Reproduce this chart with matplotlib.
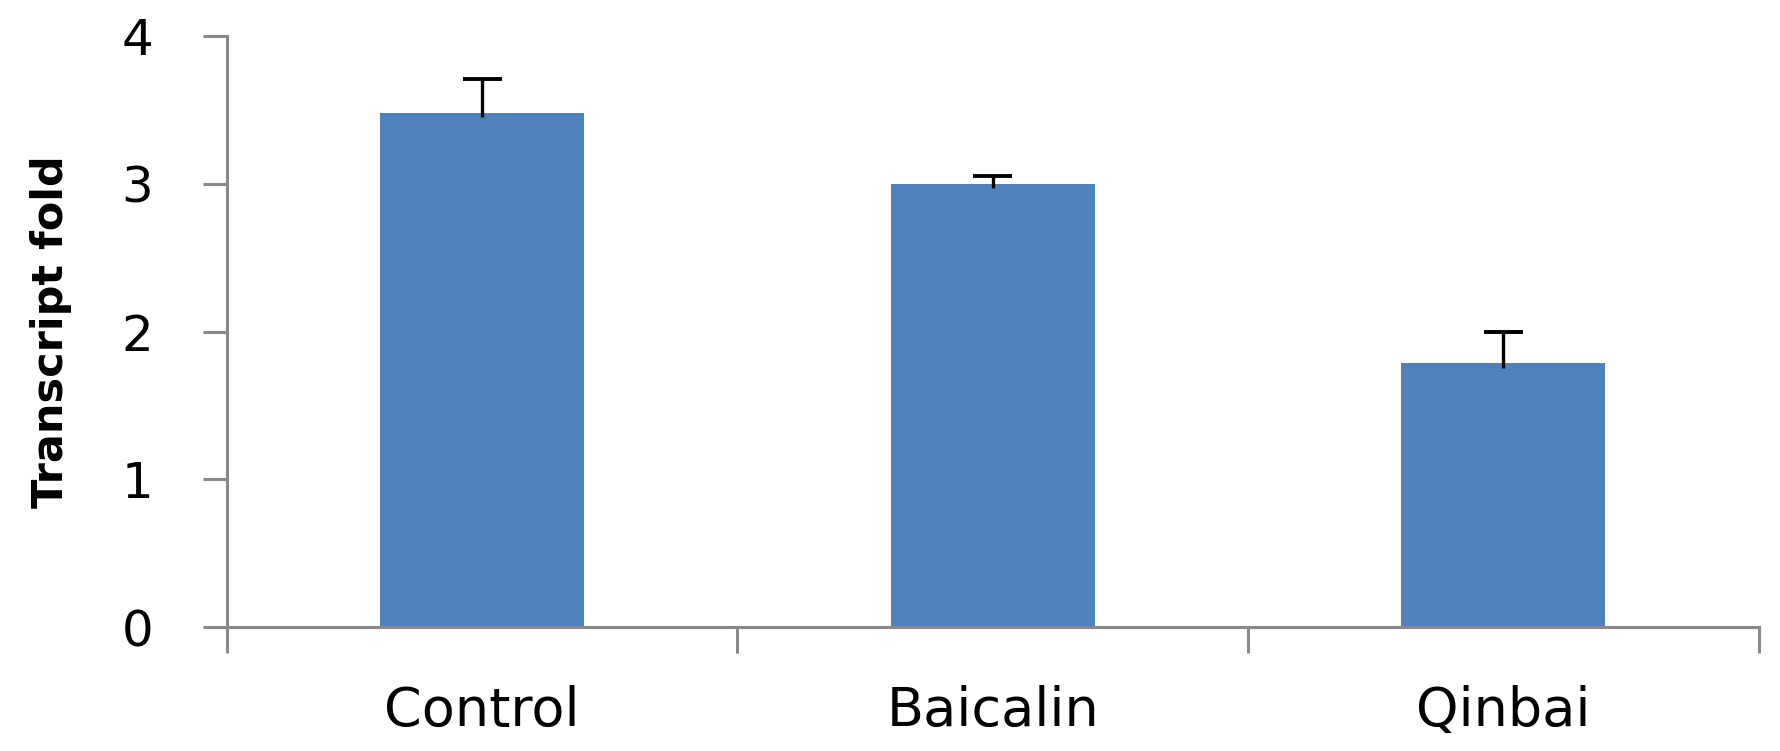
import numpy as np
import matplotlib
matplotlib.use("Agg")
import matplotlib.pyplot as plt

# Transcript fold per treatment
groups = ["Control", "Baicalin", "Qinbai"]
fold = [3.48, 3.00, 1.785]
fold_err = [0.23, 0.05, 0.21]
y_ticks = [0, 1, 2, 3, 4]

axis_grey = "#898989"
bar_blue = "#4F81BD"

fig = plt.figure(figsize=(17.81, 7.51), dpi=100)
ax = fig.add_axes([0.1274, 0.165, 0.860, 0.787])

x = np.arange(len(groups))
fold = np.array(fold)
fold_err = np.array(fold_err)
ax.bar(x, fold, width=0.4, color=bar_blue, zorder=2)

# plus-only error bars: stem starts just inside the bar, cap on top only
cap_half = 0.038
ax.vlines(x, fold - 0.03, fold + fold_err, color="black", linewidth=2.4, zorder=3)
ax.hlines(fold + fold_err, x - cap_half, x + cap_half, color="black",
          linewidth=2.8, zorder=3)

ax.set_xlim(-0.5, len(groups) - 0.5)
ax.set_ylim(0, 4)

# category boundaries get the tick marks, labels sit between them
ax.set_xticks(np.arange(len(groups) + 1) - 0.5)
ax.set_xticklabels([])
ax.set_xticks(x, minor=True)
ax.set_xticklabels(groups, minor=True, fontsize=39)
ax.tick_params(axis="x", which="minor", length=0, pad=42)
ax.tick_params(axis="x", which="major", length=19, width=2.2, color=axis_grey)

ax.set_yticks(y_ticks)
ax.set_yticklabels([str(v) for v in y_ticks], fontsize=36)
ax.tick_params(axis="y", length=17, width=2.2, color=axis_grey, pad=36)

for side in ["top", "right"]:
    ax.spines[side].set_visible(False)
for side in ["left", "bottom"]:
    ax.spines[side].set_color(axis_grey)
    ax.spines[side].set_linewidth(2.2)

ax.set_ylabel("Transcript fold", fontsize=31, fontweight="bold", labelpad=36)

fig.savefig("out.png", dpi=100)
